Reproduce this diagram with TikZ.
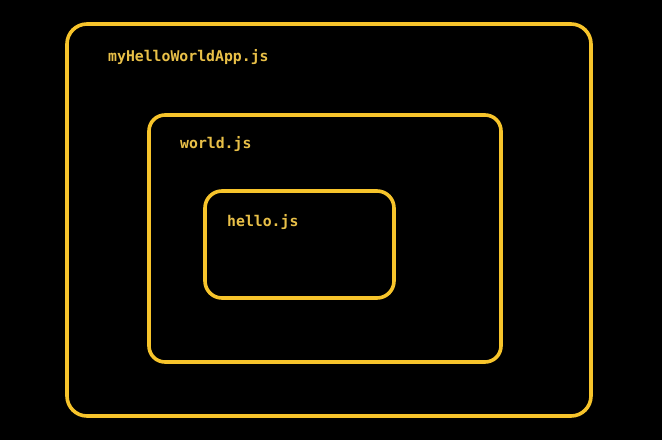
\documentclass[tikz,border=0pt]{standalone}
\usepackage{fontspec}
\setmonofont{DejaVu Sans Mono}
\definecolor{boxcol}{HTML}{F7C42B}
\definecolor{txtcol}{HTML}{E9C048}
\begin{document}
\begin{tikzpicture}[x=1pt,y=-1pt,
  frame/.style={draw=boxcol,line width=3.6pt},
  label/.style={anchor=base west,inner sep=0pt,text=txtcol,font=\ttfamily\bfseries\fontsize{14.8}{16}\selectfont}]
\fill[black] (0,0) rectangle (662,440);
\useasboundingbox (0,0) rectangle (662,440);
\draw[frame,rounded corners=20pt] (67,24) rectangle (591,416);
\draw[frame,rounded corners=16pt] (149,115) rectangle (501,362);
\draw[frame,rounded corners=17pt] (205,191) rectangle (394,298);
\node[label] (app) at (108,61.5) {myHelloWorldApp.js};
\node[label] (world) at (180,148) {world.js};
\node[label] (hello) at (227,226.5) {hello.js};
\end{tikzpicture}
\end{document}
